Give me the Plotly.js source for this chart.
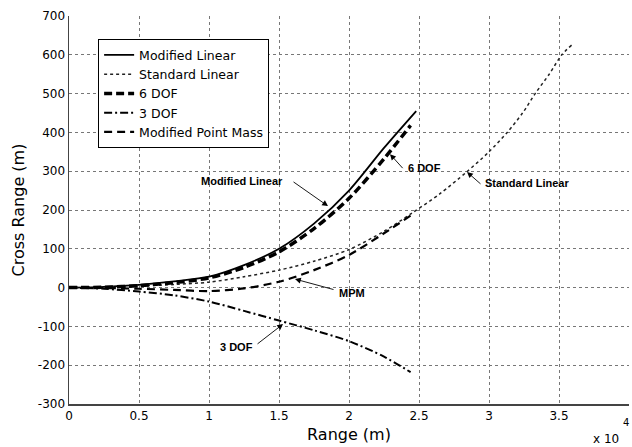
<!DOCTYPE html>
<html>
<head>
<meta charset="utf-8">
<script src="https://cdn.plot.ly/plotly-3.0.1.min.js"></script>
<style>html,body{margin:0;padding:0;background:#fff;}#chart{width:632px;height:447px;}</style>
</head>
<body>
<div id="chart"></div>
<script>
// Range (m) and cross range (m) for each model
const mlX = [0, 2500, 5000, 7500, 10000, 12500, 15000, 17500, 20000, 22500, 24800];
const mlY = [0, 2, 7, 16, 28, 58, 100, 165, 250, 360, 455];

const slX = [0, 2500, 5000, 7500, 10000, 12500, 15000, 17500, 20000, 22500, 24500, 26500, 28400, 30000, 31300, 32400, 33300, 34300, 35200, 35900];
const slY = [0, 1, 4, 8, 14, 28, 45, 68, 98, 145, 192, 242, 298, 350, 400, 450, 500, 550, 600, 625];

const dof6X = [0, 2500, 5000, 7500, 10000, 12500, 15000, 17500, 20000, 22500, 24400];
const dof6Y = [0, 1, 5, 13, 25, 52, 92, 152, 230, 332, 418];

const dof3X = [0, 2500, 5000, 7500, 10000, 12500, 15000, 17500, 20000, 22500, 24400];
const dof3Y = [0, -3, -10, -20, -36, -60, -85, -110, -138, -178, -218];

const mpmX = [0, 2500, 5000, 7500, 10000, 12500, 15000, 17500, 20000, 22500, 24500];
const mpmY = [0, -1, -3, -6, -9, -2, 15, 45, 84, 140, 188];

const xTickVals = [0, 5000, 10000, 15000, 20000, 25000, 30000, 35000, 40000];
const xTickText = ['0', '0.5', '1', '1.5', '2', '2.5', '3', '3.5', '4'];
const yTickVals = [-300, -200, -100, 0, 100, 200, 300, 400, 500, 600, 700];
const yTickText = ['-300', '-200', '-100', '0', '100', '200', '300', '400', '500', '600', '700'];

const traces = [
  {x: mlX, y: mlY, name: 'Modified Linear', mode: 'lines', line: {color: '#000', width: 1.8, shape: 'spline', smoothing: 0.8}},
  {x: slX, y: slY, name: 'Standard Linear', mode: 'lines', line: {color: '#222', width: 1.5, dash: 'dot', shape: 'spline', smoothing: 0.8}},
  {x: dof6X, y: dof6Y, name: '6 DOF', mode: 'lines', line: {color: '#000', width: 3.5, dash: '8px,4px', shape: 'spline', smoothing: 0.8}},
  {x: dof3X, y: dof3Y, name: '3 DOF', mode: 'lines', line: {color: '#000', width: 2, dash: '8px,3px,2px,3px', shape: 'spline', smoothing: 0.8}},
  {x: mpmX, y: mpmY, name: 'Modified Point Mass', mode: 'lines', line: {color: '#000', width: 2.2, dash: '8px,5px', shape: 'spline', smoothing: 0.8}}
];

const afont = {family: 'Liberation Sans, Arial, sans-serif', size: 11, color: '#000', weight: 'bold'};
function label(text, x, y, anchor) {
  return {text: '<b>' + text + '</b>', x: x, y: y, xref: 'x', yref: 'y', showarrow: false, xanchor: anchor, yanchor: 'middle', font: afont};
}
function arrow(tx, ty, hx, hy) {
  return {text: '', x: hx, y: hy, ax: tx, ay: ty, xref: 'x', yref: 'y', axref: 'x', ayref: 'y',
    showarrow: true, arrowhead: 2, arrowsize: 1.3, arrowwidth: 0.9, arrowcolor: '#000', standoff: 0, startstandoff: 0};
}

const annotations = [
  label('Modified Linear', 15450, 275, 'right'),
  arrow(15930, 275, 18500, 210),
  label('6 DOF', 24100, 308, 'left'),
  arrow(23930, 304, 22930, 344),
  label('Standard Linear', 29600, 269, 'left'),
  arrow(29500, 264, 28430, 298),
  label('MPM', 19150, -14, 'left'),
  arrow(19000, -6, 16140, 22),
  label('3 DOF', 13300, -153, 'right'),
  arrow(13360, -148, 15290, -94),
  {text: 'x 10', xref: 'paper', yref: 'paper', x: 0.985, y: -0.09, xanchor: 'right', yanchor: 'middle', showarrow: false,
   font: {family: 'DejaVu Sans', size: 12, color: '#000'}},
  {text: '4', xref: 'paper', yref: 'paper', x: 0.994, y: -0.047, xanchor: 'center', yanchor: 'middle', showarrow: false,
   font: {family: 'DejaVu Sans', size: 10, color: '#000'}}
];

const layout = {
  width: 632, height: 447,
  margin: {l: 69, r: 3, t: 16, b: 43},
  paper_bgcolor: '#fff', plot_bgcolor: '#fff',
  font: {family: 'DejaVu Sans, sans-serif', color: '#000'},
  showlegend: true,
  legend: {x: 0.052, y: 0.94, xanchor: 'left', yanchor: 'top', bgcolor: '#fff', bordercolor: '#000', borderwidth: 1,
    font: {family: 'DejaVu Sans, sans-serif', size: 12.5, color: '#000'}, tracegroupgap: 0},
  xaxis: {
    range: [0, 40000], tickvals: xTickVals, ticktext: xTickText, tickfont: {size: 12, color: '#000'},
    showgrid: true, gridcolor: '#777', griddash: 'dot', gridwidth: 1,
    showline: true, linecolor: '#444', linewidth: 1.5, zeroline: false, ticks: '',
    title: {text: 'Range (m)', font: {size: 16, color: '#000'}, standoff: 7}
  },
  yaxis: {
    range: [-300, 700], tickvals: yTickVals, ticktext: yTickText, tickfont: {size: 12, color: '#000'},
    showgrid: true, gridcolor: '#777', griddash: 'dot', gridwidth: 1,
    showline: true, linecolor: '#444', linewidth: 1.5, zeroline: false, ticks: '',
    title: {text: 'Cross Range (m)', font: {size: 16, color: '#000'}, standoff: 9}
  },
  annotations: annotations
};

Plotly.newPlot('chart', traces, layout, {displayModeBar: false, staticPlot: true});
</script>
</body>
</html>
